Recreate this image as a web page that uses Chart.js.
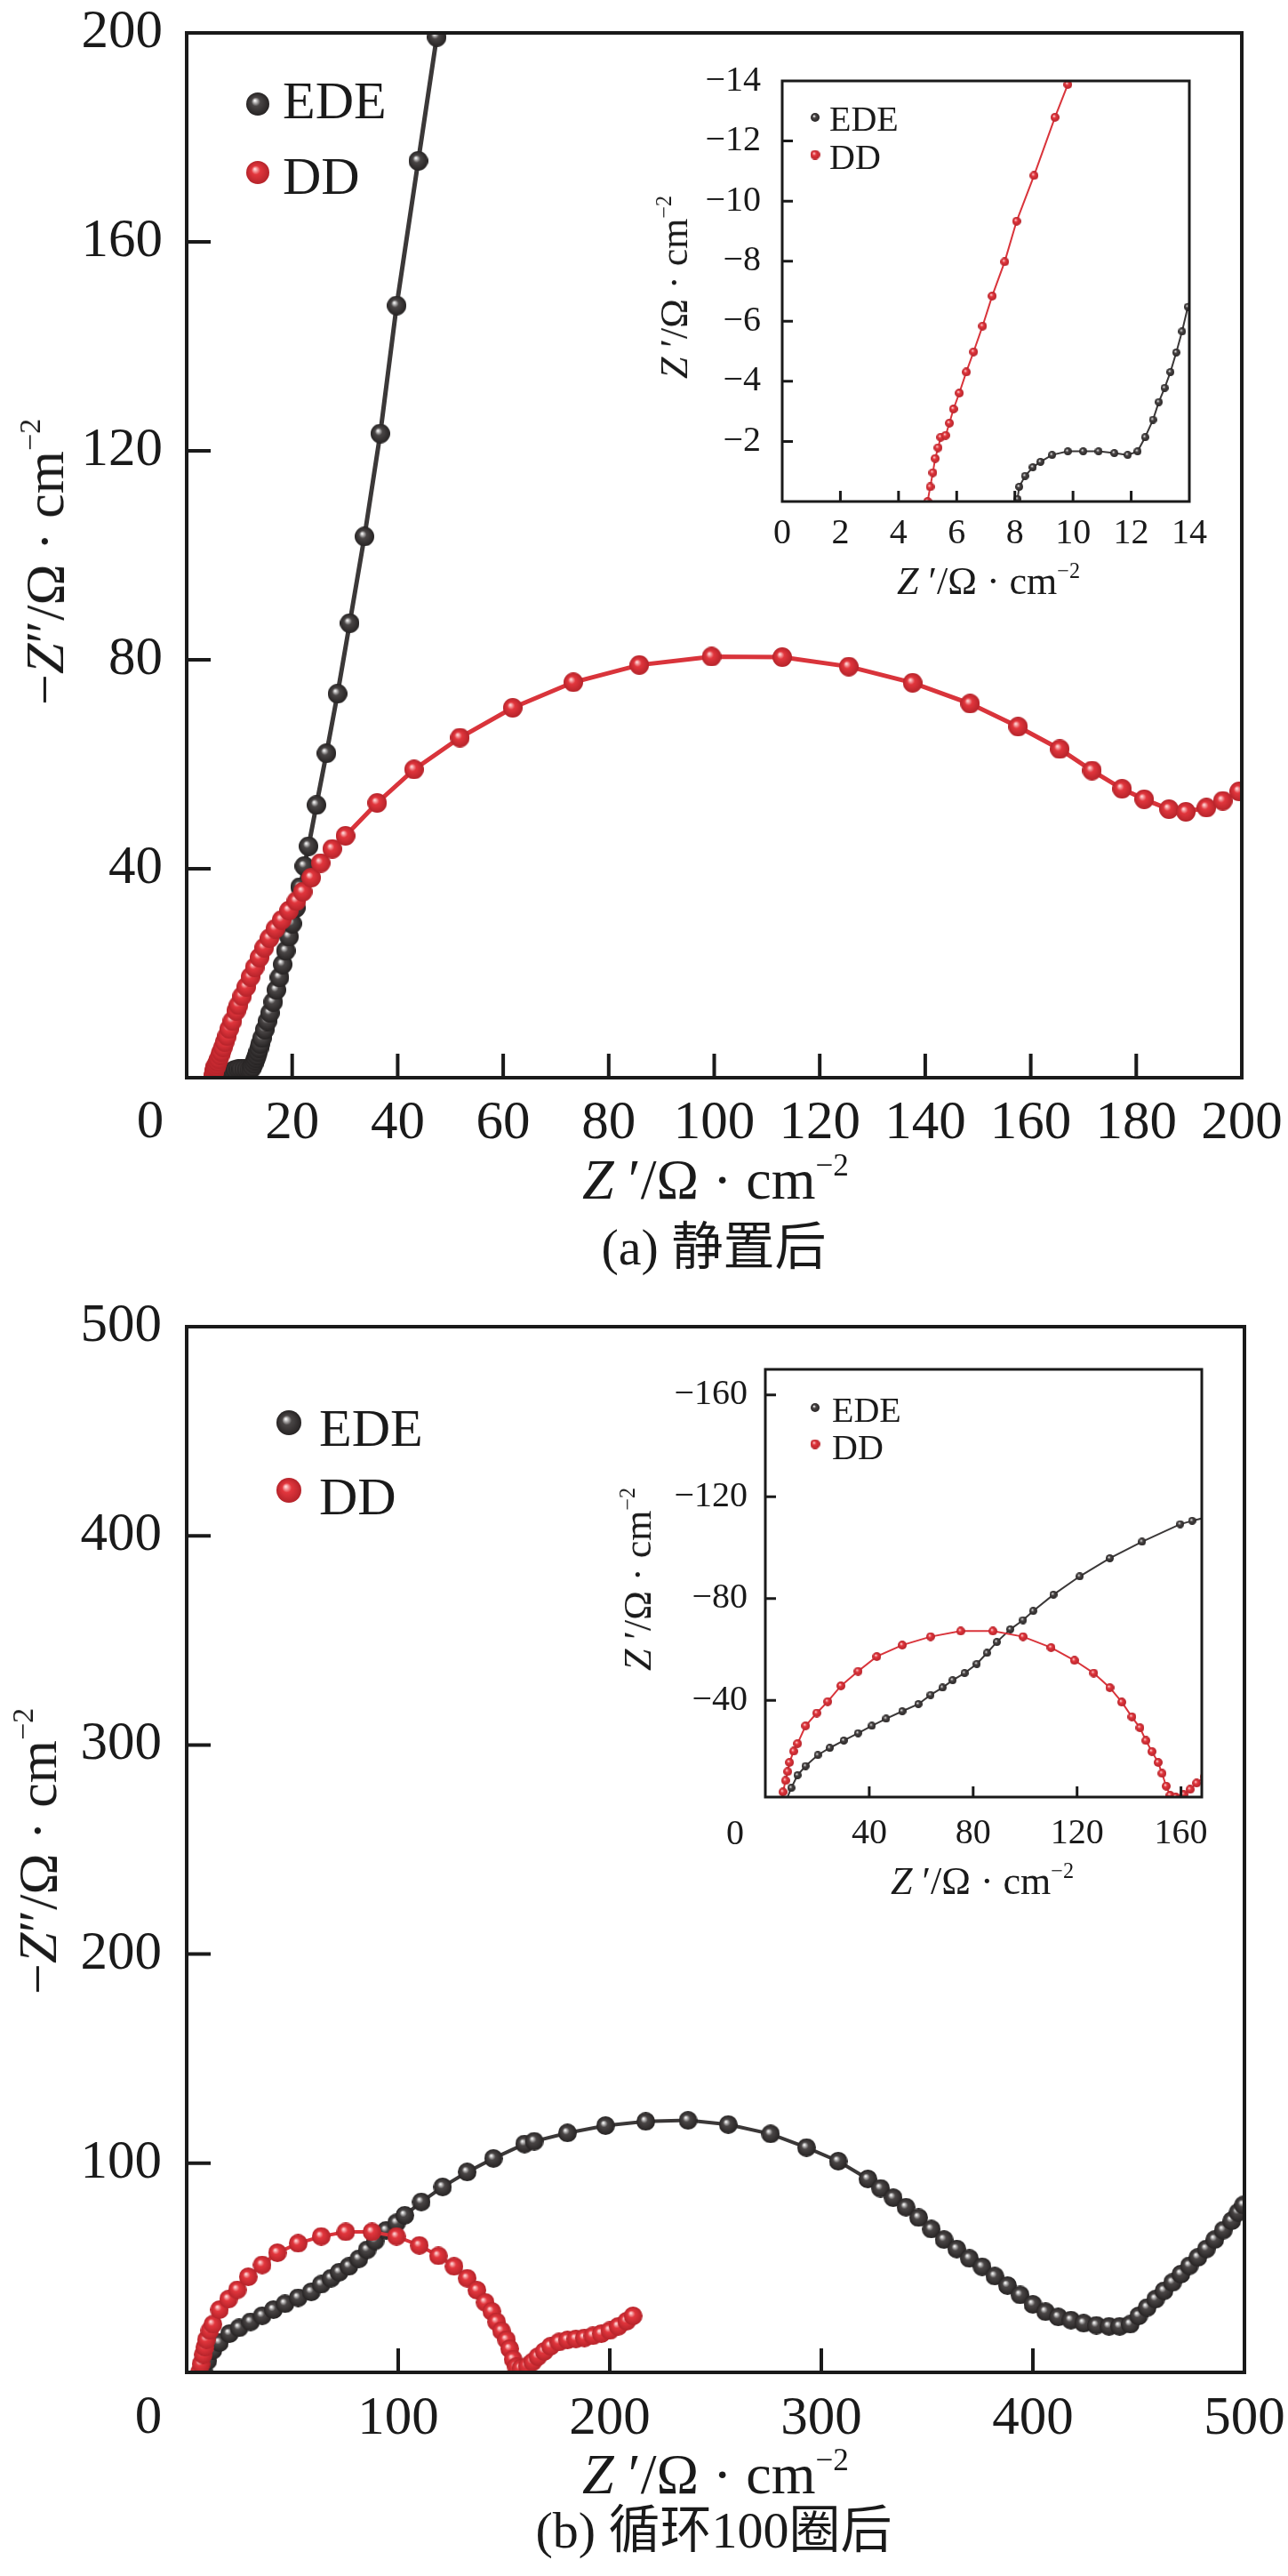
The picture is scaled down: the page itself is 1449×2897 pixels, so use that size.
<!DOCTYPE html>
<html>
<head>
<meta charset="utf-8">
<script src="https://cdn.jsdelivr.net/npm/chart.js@4.4.1/dist/chart.umd.min.js"></script>
<style>
  body { margin: 0; background: #fff; }
  #page { position: relative; width: 1449px; height: 2897px; overflow: hidden; color: #1a1a1a;
          font-family: "Liberation Serif", "Times New Roman", "Noto Sans CJK SC", serif; }
  canvas { position: absolute; }
  .t { position: absolute; white-space: nowrap; line-height: 1; transform: translate(-50%, -50%); }
  .rot { transform: translate(-50%, -50%) rotate(-90deg); }
  .sup { font-size: 0.55em; position: relative; top: -0.75em; }
  .cjk { font-family: "Noto Sans CJK SC", sans-serif; }
</style>
</head>
<body>
<div id="page">
  <canvas id="mainA" width="1449" height="1449" style="left:0;top:0"></canvas>
  <canvas id="insetA" width="620" height="600" style="left:780px;top:60px"></canvas>
  <canvas id="mainB" width="1449" height="1448" style="left:0;top:1449px"></canvas>
  <canvas id="insetB" width="650" height="620" style="left:760px;top:1510px"></canvas>

  <div class="t rot" style="left:50px;top:632px;font-size:62px">−<i>Z</i>″/Ω · cm<span class="sup">−2</span></div>
  <div class="t" style="left:805px;top:1327px;font-size:64px"><i>Z</i> ′/Ω · cm<span class="sup">−2</span></div>
  <div class="t" style="left:803px;top:1400px;font-size:58px">(a) <span class="cjk">静置后</span></div>
  <div class="t rot" style="left:759px;top:323px;font-size:44px"><i>Z</i> ′/Ω · cm<span class="sup">−2</span></div>
  <div class="t" style="left:1112px;top:654px;font-size:44px"><i>Z</i> ′/Ω · cm<span class="sup">−2</span></div>

  <div class="t rot" style="left:42px;top:2082px;font-size:62px">−<i>Z</i>″/Ω · cm<span class="sup">−2</span></div>
  <div class="t" style="left:805px;top:2783px;font-size:64px"><i>Z</i> ′/Ω · cm<span class="sup">−2</span></div>
  <div class="t" style="left:803px;top:2843px;font-size:58px">(b) <span class="cjk">循环</span>100<span class="cjk">圈后</span></div>
  <div class="t rot" style="left:718px;top:1776px;font-size:44px"><i>Z</i> ′/Ω · cm<span class="sup">−2</span></div>
  <div class="t" style="left:1105px;top:2116px;font-size:44px"><i>Z</i> ′/Ω · cm<span class="sup">−2</span></div>
</div>
<script>
// (a) after standing: Z' and -Z'' values
const edeA_x = [8.09, 8.15, 8.35, 8.62, 8.88, 9.28, 9.82, 10.35, 10.88, 11.42, 11.88, 12.22, 12.48, 12.75, 12.95,
  13.15, 13.35, 13.55, 13.75, 13.95, 14.3, 14.8, 15.3, 15.8, 16.4, 17.0, 17.6, 18.2, 18.8, 19.4, 20.0, 20.7,
  21.5, 22.3, 23.1, 24.6, 26.5, 28.6, 30.9, 33.7, 36.7, 39.8, 43.9, 47.4, 48.2];
const edeA_y = [0.08, 0.49, 0.85, 1.14, 1.32, 1.55, 1.67, 1.67, 1.67, 1.61, 1.55, 1.67, 2.14, 2.72, 3.31,
  3.78, 4.31, 4.96, 5.66, 6.48, 7.6, 9.2, 10.8, 12.4, 14.5, 16.8, 19.2, 21.7, 24.3, 27.0, 29.5, 32.5,
  36.5, 40.5, 44.3, 52.2, 62.1, 73.5, 87.0, 103.6, 123.3, 147.8, 175.5, 199.2, 205];
const ddA_x = [5.0, 5.09, 5.18, 5.26, 5.36, 5.45, 5.62, 5.75, 5.89, 6.09, 6.33, 6.58, 6.89, 7.22, 7.65, 8.06,
  8.66, 9.38, 9.82, 10.5, 11.3, 12.1, 12.9, 13.8, 14.7, 15.7, 16.8, 18.0, 19.4, 20.8, 22.0, 23.6, 25.4, 27.6,
  30.1, 36.1, 43.1, 51.8, 61.8, 73.3, 85.8, 99.5, 112.9, 125.5, 137.6, 148.5, 157.6, 165.5, 171.6, 177.3,
  181.5, 186.2, 189.4, 193.3, 196.4, 199.5, 202];
const ddA_y = [0, 0.49, 0.96, 1.43, 1.79, 2.14, 2.2, 2.61, 3.08, 3.61, 4.31, 4.98, 5.84, 6.84, 7.98, 9.33,
  10.85, 12.79, 13.88, 15.6, 17.4, 19.3, 21.1, 23.0, 24.9, 26.7, 28.5, 30.2, 32.0, 33.8, 35.6, 38.3, 41.1, 43.8,
  46.3, 52.6, 59.0, 65.1, 70.8, 75.7, 79.0, 80.6, 80.5, 78.7, 75.6, 71.6, 67.2, 62.9, 58.8, 55.3,
  53.3, 51.4, 50.9, 51.7, 53.0, 54.8, 57];

// (b) after 100 cycles
const edeB_x = [8, 10, 12.4, 15.5, 20.2, 24.8, 30.2, 35.7, 41, 46.5, 52.7, 58.9, 63.6, 68.2, 72.1, 76.7, 81.4,
  85.3, 89.1, 94.3, 99.2, 103.1, 110.9, 121, 132.6, 145, 159.7, 164.3, 180, 198, 217, 237, 256, 276, 293, 308,
  322, 328, 334, 340, 346, 352, 358, 364, 370, 376, 382, 388, 394, 400, 406, 412, 418, 424, 430, 436, 441, 446,
  450, 454, 458, 462, 466, 470, 474, 478, 482, 486, 490, 494, 497, 499.5];
const edeB_y = [0.6, 5.6, 10.6, 14.2, 18.5, 21.3, 24.2, 27.1, 30, 32.8, 35.7, 38.5, 42.1, 45, 47.9, 50.7, 54.3,
  58.6, 62.9, 67.9, 71.5, 75.1, 81.5, 88.7, 95.8, 102.3, 109.2, 110.5, 114.5, 118, 120, 120.5, 118.5, 114, 107.5, 101,
  92.5, 88, 83.5, 79, 74, 68.5, 63.5, 59, 54.5, 50.5, 46, 41.5, 37, 32.5, 29, 26.5, 25, 23.5, 22.5, 22, 22, 23,
  27, 31, 35, 39, 43, 47, 51, 55, 59, 63.5, 68, 72.5, 76.5, 80];
const ddB_x = [6, 6.8, 7.8, 8.6, 9.3, 10.9, 12.4, 15.5, 19.8, 24, 29.1, 35.7, 42.9, 52.7, 63.6, 75.2, 87.6,
  99.2, 110, 119, 126.4, 132.6, 137.2, 141.1, 144.2, 146.5, 148.8, 151.2, 152.7, 154.3, 155.8, 158, 161, 163.5,
  166, 169, 172, 176, 180, 184, 188, 192, 196, 200, 204, 208, 211];
const ddB_y = [0, 4, 8.5, 12, 15.6, 20, 23, 30, 35, 39.5, 45.7, 51.4, 57.2, 61.7, 65, 67.2, 67.2,
  65, 60.7, 55.7, 50.7, 45, 39.3, 33.5, 29.2, 24.2, 19.9, 15.6, 11.3, 6.3, 2.7, 2, 3, 5,
  7.5, 10, 12.5, 14.5, 15.5, 16, 16.5, 17.5, 18.5, 20, 22, 24.5, 27];

// tick values
const aXTicks = [20, 40, 60, 80, 100, 120, 140, 160, 180, 200];
const aYTicks = [40, 80, 120, 160, 200];
const aInXTicks = [0, 2, 4, 6, 8, 10, 12, 14];
const aInYTicks = [2, 4, 6, 8, 10, 12, 14];
const bXTicks = [100, 200, 300, 400, 500];
const bYTicks = [100, 200, 300, 400, 500];
const bInXTicks = [40, 80, 120, 160];
const bInYTicks = [40, 80, 120, 160];

const INK = '#1a1a1a';
const SERIF = '"Liberation Serif", "Times New Roman", serif';

function ball(d, base, light, dark) {
  const c = document.createElement('canvas');
  c.width = c.height = d;
  const g = c.getContext('2d');
  const r = d / 2;
  const grad = g.createRadialGradient(r * 0.75, r * 0.7, r * 0.05, r, r, r);
  grad.addColorStop(0, light);
  grad.addColorStop(0.35, base);
  grad.addColorStop(1, dark);
  g.fillStyle = grad;
  g.beginPath();
  g.arc(r, r, r, 0, Math.PI * 2);
  g.fill();
  return c;
}
const blackBall = (d) => ball(d, '#4a4646', '#f4f4f4', '#262323');
const redBall = (d) => ball(d, '#e2363d', '#ffd6d6', '#b5232a');

const framePlugin = {
  id: 'frame',
  afterDatasetsDraw(chart, args, o) {
    const { ctx, chartArea: a } = chart;
    const x = chart.scales.x, y = chart.scales.y;
    ctx.save();
    ctx.strokeStyle = INK;
    ctx.lineWidth = o.width;
    ctx.beginPath();
    x.ticks.forEach(t => {
      if (t.value > x.min && t.value < x.max) {
        const px = x.getPixelForValue(t.value);
        ctx.moveTo(px, a.bottom);
        ctx.lineTo(px, a.bottom - o.tick);
      }
    });
    y.ticks.forEach(t => {
      if (t.value > y.min && t.value < y.max) {
        const py = y.getPixelForValue(t.value);
        ctx.moveTo(a.left, py);
        ctx.lineTo(a.left + o.tick, py);
      }
    });
    ctx.stroke();
    ctx.lineJoin = 'miter';
    ctx.strokeRect(a.left, a.top, a.right - a.left, a.bottom - a.top);

    ctx.fillStyle = INK;
    if (o.zero) {
      ctx.font = o.zero.size + 'px ' + SERIF;
      ctx.textAlign = 'center';
      ctx.textBaseline = 'middle';
      ctx.fillText('0', o.zero.x, o.zero.y);
    }
    // legend inside the plot
    const L = o.legend;
    ctx.font = L.size + 'px ' + SERIF;
    ctx.textAlign = 'left';
    ctx.textBaseline = 'alphabetic';
    chart.data.datasets.forEach((ds, i) => {
      const img = ds.legendBall;
      ctx.drawImage(img, L.mx - img.width / 2, L.my + i * L.mdy - img.height / 2);
      ctx.fillText(ds.label, L.tx, L.ty + i * L.tdy);
    });
    ctx.restore();
  }
};

function panel(id, p) {
  const sets = p.series.map(s => ({
    label: s.label,
    data: s.x.map((v, i) => ({ x: v, y: s.y[i] })),
    showLine: true,
    borderColor: s.line,
    borderWidth: p.lineW,
    pointStyle: s.ball,
    pointRadius: s.ball.width / 2,
    pointHoverRadius: s.ball.width / 2,
    legendBall: s.legendBall,
    order: s.order,
    clip: 0,
    tension: 0
  }));
  return new Chart(document.getElementById(id), {
    type: 'scatter',
    data: { datasets: sets },
    options: {
      responsive: false,
      animation: false,
      devicePixelRatio: 1,
      events: [],
      layout: { padding: p.pad },
      plugins: {
        legend: { display: false },
        tooltip: { enabled: false },
        frame: p.frame
      },
      scales: {
        x: {
          type: 'linear', min: p.xMin, max: p.xMax,
          afterBuildTicks: s => { s.ticks = p.xTicks.map(v => ({ value: v })); },
          afterFit: s => { s.height = p.xH; s.paddingLeft = 0; s.paddingRight = 0; },
          grid: { display: false, drawTicks: false },
          border: { display: false },
          ticks: { color: INK, padding: p.xPad, maxRotation: 0, autoSkip: false,
                   font: { family: SERIF, size: p.font, lineHeight: 1 } }
        },
        y: {
          type: 'linear', min: p.yMin, max: p.yMax,
          afterBuildTicks: s => { s.ticks = p.yTicks.map(v => ({ value: v })); },
          afterFit: s => { s.width = p.yW; s.paddingTop = 0; s.paddingBottom = 0; },
          grid: { display: false, drawTicks: false },
          border: { display: false },
          ticks: { color: INK, padding: p.yPad, autoSkip: false,
                   callback: v => (p.yNeg ? '−' + v : String(v)),
                   font: { family: SERIF, size: p.font, lineHeight: 1 } }
        }
      }
    },
    plugins: [framePlugin]
  });
}

const edeLine = '#3b3838', ddLine = '#d9343b';

panel('mainA', {
  series: [
    { label: 'EDE', x: edeA_x, y: edeA_y, line: edeLine, ball: blackBall(22), legendBall: blackBall(26), order: 2 },
    { label: 'DD', x: ddA_x, y: ddA_y, line: ddLine, ball: redBall(22), legendBall: redBall(26), order: 1 }
  ],
  lineW: 5, pad: { left: 0, top: 37, right: 52, bottom: 0 },
  xMin: 0, xMax: 200, yMin: 0, yMax: 200, xTicks: aXTicks, yTicks: aYTicks,
  xH: 237, yW: 210, xPad: 21, yPad: 27, font: 61, yNeg: false,
  frame: { width: 4, tick: 27, zero: { x: 169, y: 1263, size: 61 },
           legend: { mx: 290, my: 117, mdy: 77, tx: 318, ty: 133, tdy: 85, size: 60 } }
});

panel('insetA', {
  series: [
    { label: 'EDE', x: edeA_x, y: edeA_y, line: edeLine, ball: blackBall(9), legendBall: blackBall(10), order: 2 },
    { label: 'DD', x: ddA_x, y: ddA_y, line: ddLine, ball: redBall(10), legendBall: redBall(11), order: 1 }
  ],
  lineW: 2, pad: { left: 0, top: 31, right: 62, bottom: 0 },
  xMin: 0, xMax: 14, yMin: 0, yMax: 14, xTicks: aInXTicks, yTicks: aInYTicks,
  xH: 96, yW: 100, xPad: 16, yPad: 24, font: 40, yNeg: true,
  frame: { width: 3, tick: 12,
           legend: { mx: 137, my: 72, mdy: 42, tx: 153, ty: 87, tdy: 43, size: 40 } }
});

panel('mainB', {
  series: [
    { label: 'EDE', x: edeB_x, y: edeB_y, line: edeLine, ball: blackBall(21), legendBall: blackBall(28), order: 2 },
    { label: 'DD', x: ddB_x, y: ddB_y, line: ddLine, ball: redBall(21), legendBall: redBall(28), order: 1 }
  ],
  lineW: 4, pad: { left: 0, top: 43, right: 49, bottom: 0 },
  xMin: 0, xMax: 500, yMin: 0, yMax: 500, xTicks: bXTicks, yTicks: bYTicks,
  xH: 229, yW: 210, xPad: 22, yPad: 28, font: 61, yNeg: false,
  frame: { width: 4, tick: 27, zero: { x: 167, y: 1271, size: 61 },
           legend: { mx: 325, my: 151, mdy: 76, tx: 359, ty: 177, tdy: 77, size: 60 } }
});

panel('insetB', {
  series: [
    { label: 'EDE', x: edeB_x, y: edeB_y, line: edeLine, ball: blackBall(9), legendBall: blackBall(10), order: 2 },
    { label: 'DD', x: ddB_x, y: ddB_y, line: ddLine, ball: redBall(10), legendBall: redBall(11), order: 1 }
  ],
  lineW: 2, pad: { left: 0, top: 30, right: 58, bottom: 0 },
  xMin: 0, xMax: 168, yMin: 2, yMax: 170, xTicks: bInXTicks, yTicks: bInYTicks,
  xH: 109, yW: 101, xPad: 21, yPad: 20, font: 40, yNeg: true,
  frame: { width: 3, tick: 12, zero: { x: 67, y: 553, size: 40 },
           legend: { mx: 157, my: 73, mdy: 41, tx: 176, ty: 89, tdy: 42, size: 40 } }
});
</script>
</body>
</html>
